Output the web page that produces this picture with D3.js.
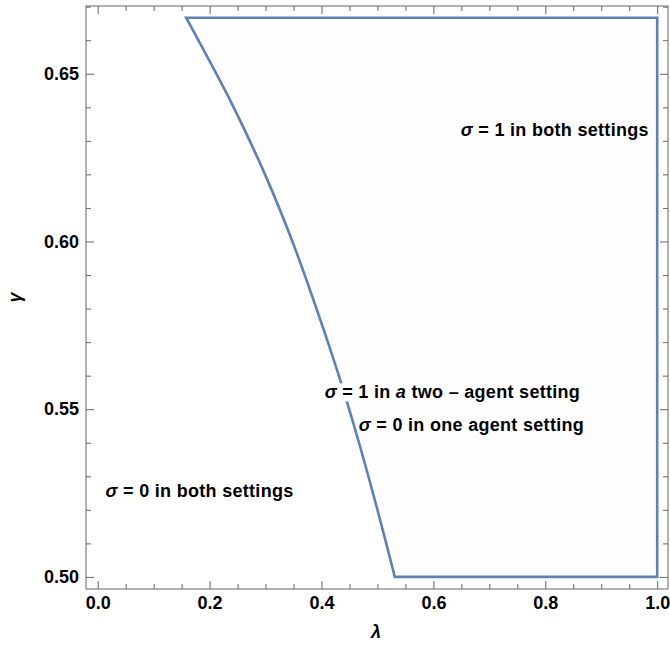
<!DOCTYPE html>
<html>
<head>
<meta charset="utf-8">
<script src="https://cdn.jsdelivr.net/npm/d3@7"></script>
<style>
  body { margin: 0; background: #fff; }
  svg text { font-family: "Liberation Sans", Arial, sans-serif; font-weight: bold; }
</style>
</head>
<body>
<div id="chartContainer"></div>
<script>
// boundary curve: lambda at each gamma
var gammaVals  = [0.50, 0.52, 0.54, 0.56, 0.58, 0.60, 0.62, 0.64, 0.6667];
var lambdaVals = [0.531, 0.500, 0.467, 0.431, 0.391, 0.348, 0.299, 0.243, 0.158];
var gammaTop = 0.6667, gammaBottom = 0.50, lambdaRight = 1.0;

var xMajor = [0, 0.2, 0.4, 0.6, 0.8, 1.0];
var yMajor = [0.50, 0.55, 0.60, 0.65];

var labels = [
  {parts: [["σ", true], [" = 1 in both settings", false]], lambda: 0.817, gamma: 0.6332},
  {parts: [["σ", true], [" = 1 in ", false], ["a", true], [" two – agent setting", false]], lambda: 0.634, gamma: 0.5551},
  {parts: [["σ", true], [" = 0 in one agent setting", false]], lambda: 0.668, gamma: 0.5453},
  {parts: [["σ", true], [" = 0 in both settings", false]], lambda: 0.182, gamma: 0.5256}
];

var W = 670, H = 649;
var frameL = 86, frameT = 6, frameR = 668, frameB = 589;

var svg = d3.select("#chartContainer").append("svg")
  .attr("width", W).attr("height", H);

var x = d3.scaleLinear().domain([-0.0209, 1.0193]).range([frameL, frameR]);
var y = d3.scaleLinear().domain([0.4964, 0.6702]).range([frameB, frameT]);

// filled region + outline: smooth boundary curve, then straight edges
var curvePts = gammaVals.map(function (g, i) { return [lambdaVals[i], g]; });
var curveLine = d3.line()
  .x(function (d) { return x(d[0]); })
  .y(function (d) { return y(d[1]); })
  .curve(d3.curveCatmullRom);
var regionPath = curveLine(curvePts)
  + "L" + x(lambdaRight) + "," + y(gammaTop)
  + "L" + x(lambdaRight) + "," + y(gammaBottom) + "Z";

svg.append("path")
  .attr("d", regionPath)
  .attr("fill", "#fdfdfe")
  .attr("stroke", "#5e81b5")
  .attr("stroke-width", 2.6)
  .attr("stroke-linejoin", "miter");

// frame with ticks on all sides (pointing inward)
function minorTicks(lo, hi, step) {
  var out = [];
  for (var v = lo; v <= hi + 1e-9; v += step) out.push(+v.toFixed(4));
  return out;
}
var xMinor = minorTicks(0, 1, 0.05).filter(function (v) { return xMajor.indexOf(v) < 0; });
var yMinor = minorTicks(0.50, 0.67, 0.01).filter(function (v) { return yMajor.indexOf(v) < 0; });

var frameColor = "#666";

function addAxis(gen, tx, ty, vals, size, fmt) {
  var g = svg.append("g").attr("transform", "translate(" + tx + "," + ty + ")")
    .call(gen.tickValues(vals).tickSizeInner(size).tickSizeOuter(0).tickPadding(7).tickFormat(fmt));
  g.select(".domain").remove();
  g.selectAll("line").attr("stroke", frameColor);
  g.selectAll("text").attr("font-size", 18).attr("fill", "#000");
  return g;
}
var none = function () { return ""; };

addAxis(d3.axisBottom(x), 0, frameB, xMajor, -8, d3.format(".1f"));
addAxis(d3.axisBottom(x), 0, frameB, xMinor, -5, none);
addAxis(d3.axisTop(x), 0, frameT, xMajor, -8, none);
addAxis(d3.axisTop(x), 0, frameT, xMinor, -5, none);
addAxis(d3.axisLeft(y), frameL, 0, yMajor, -8, d3.format(".2f"));
addAxis(d3.axisLeft(y), frameL, 0, yMinor, -5, none);
addAxis(d3.axisRight(y), frameR, 0, yMajor, -8, none);
addAxis(d3.axisRight(y), frameR, 0, yMinor, -5, none);

svg.append("rect")
  .attr("x", frameL).attr("y", frameT)
  .attr("width", frameR - frameL).attr("height", frameB - frameT)
  .attr("fill", "none").attr("stroke", frameColor).attr("stroke-width", 1);

// region labels with white background
labels.forEach(function (l) {
  var g = svg.append("g");
  var t = g.append("text")
    .attr("x", x(l.lambda)).attr("y", y(l.gamma))
    .attr("dy", "0.35em")
    .attr("text-anchor", "middle")
    .attr("font-size", 18)
    .attr("letter-spacing", 0.3)
    .attr("fill", "#000");
  l.parts.forEach(function (p) {
    t.append("tspan").text(p[0]).attr("font-style", p[1] ? "italic" : "normal");
  });
  var bb = t.node().getBBox();
  g.insert("rect", "text")
    .attr("x", bb.x - 1).attr("y", bb.y + 1)
    .attr("width", bb.width + 2).attr("height", bb.height - 2)
    .attr("fill", "#fff");
});

// axis titles
svg.append("text")
  .attr("x", 376).attr("y", 638)
  .attr("text-anchor", "middle")
  .attr("font-size", 18).attr("font-style", "italic")
  .text("λ");

svg.append("text")
  .attr("transform", "translate(21," + (frameT + frameB) / 2 + ") rotate(-90)")
  .attr("text-anchor", "middle")
  .attr("font-size", 18).attr("font-style", "italic")
  .text("γ");
</script>
</body>
</html>
